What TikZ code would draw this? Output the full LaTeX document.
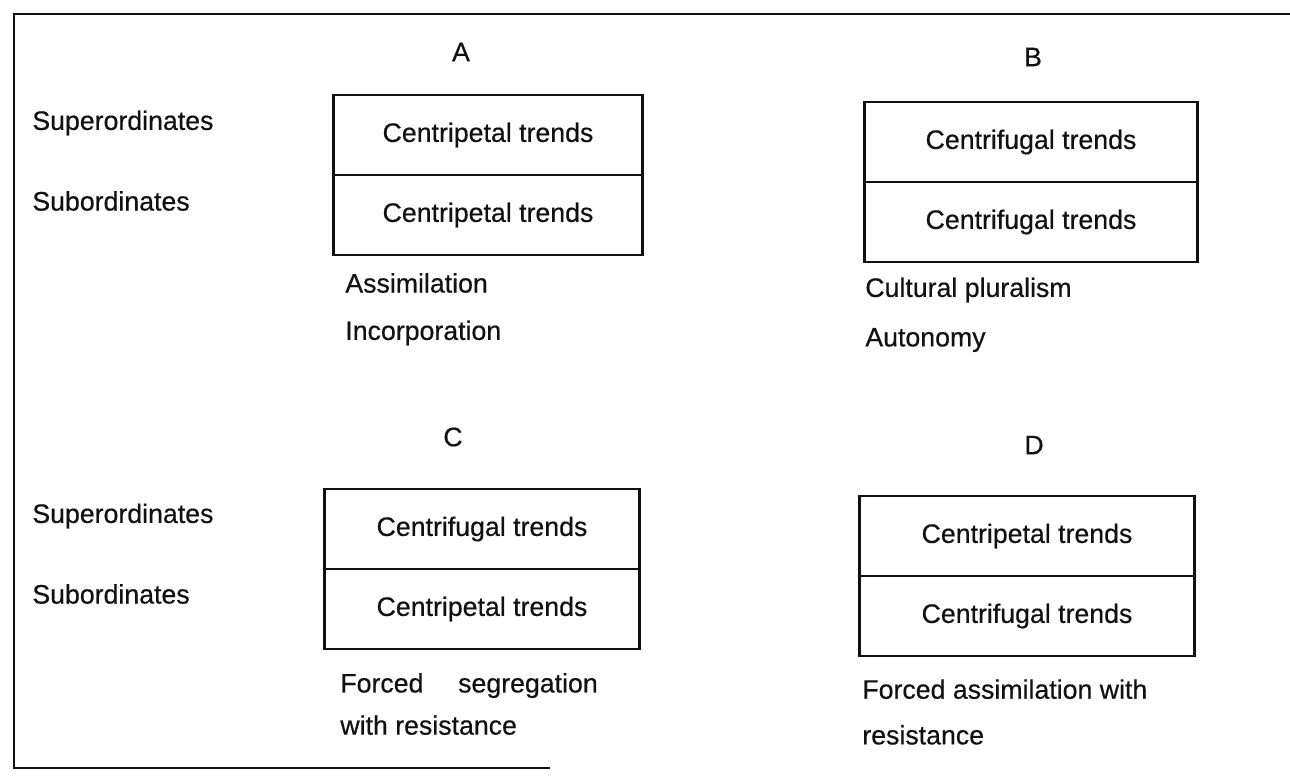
\documentclass[tikz,border=0pt]{standalone}
\usepackage{fontspec}
\setmainfont{Liberation Sans}
\newfontfamily\escaneo{Liberation Sans}[FakeBold=0.5]
\usetikzlibrary{positioning}
\definecolor{tinta}{HTML}{111111}
\tikzset{
  celda/.style={rectangle, draw=tinta, line width=1.5pt, outer sep=0pt,
    minimum height=1.6cm, inner sep=0pt, text=tinta,
    font=\escaneo\fontsize{15.2}{17}\selectfont},
  rotulo/.style={inner sep=0pt, text=tinta, font=\escaneo\fontsize{15.2}{17}\selectfont},
  nota/.style={rotulo, anchor=west, align=left},
  marco/.style={line width=1.6pt, tinta}
}

\begin{document}
\begin{tikzpicture}[x=0.02cm, y=-0.02cm]
  \useasboundingbox (0,0) rectangle (1290,778);

  % --- Marco ---
  \draw[marco] (1290,14) -- (14,14) -- (14,768) -- (550,768);

  % --- Filas ---
  \node[nota] (sup1) at (32,123) {Superordinates};
  \node[nota] (sub1) at (32,201) {Subordinates};
  \node[nota] (sup2) at (32,516) {Superordinates};
  \node[nota] (sub2) at (32,594) {Subordinates};

  % --- Caso A ---
  \node[rotulo] (letraA) at (461,52) {A};
  \node[celda, minimum width=6.18cm] (aSup) at (488,135) {Centripetal trends};
  \node[celda, minimum width=6.18cm, below=0pt of aSup] (aSub) {Centripetal trends};
  \node[nota] (aNota1) at (345,283) {Assimilation};
  \node[nota] (aNota2) at (345,333) {Incorporation};

  % --- Caso B ---
  \node[rotulo] (letraB) at (1033,57) {B};
  \node[celda, minimum width=6.66cm] (bSup) at (1031,142) {Centrifugal trends};
  \node[celda, minimum width=6.66cm, below=0pt of bSup] (bSub) {Centrifugal trends};
  \node[nota] (bNota1) at (865,290) {Cultural pluralism};
  \node[nota] (bNota2) at (865,340) {Autonomy};

  % --- Caso C ---
  \node[rotulo] (letraC) at (453,437) {C};
  \node[celda, minimum width=6.3cm] (cSup) at (482,529) {Centrifugal trends};
  \node[celda, minimum width=6.3cm, below=0pt of cSup] (cSub) {Centripetal trends};
  \node[nota, font=\escaneo\fontsize{15.2}{24}\selectfont] (cNota) at (340,704)
    {Forced\hspace{1.3em}segregation\\with resistance};

  % --- Caso D ---
  \node[rotulo] (letraD) at (1034,445) {D};
  \node[celda, minimum width=6.7cm] (dSup) at (1027,536) {Centripetal trends};
  \node[celda, minimum width=6.7cm, below=0pt of dSup] (dSub) {Centrifugal trends};
  \node[nota, font=\escaneo\fontsize{15.2}{26}\selectfont] (dNota) at (862,712)
    {Forced assimilation with\\resistance};

\end{tikzpicture}
\end{document}
